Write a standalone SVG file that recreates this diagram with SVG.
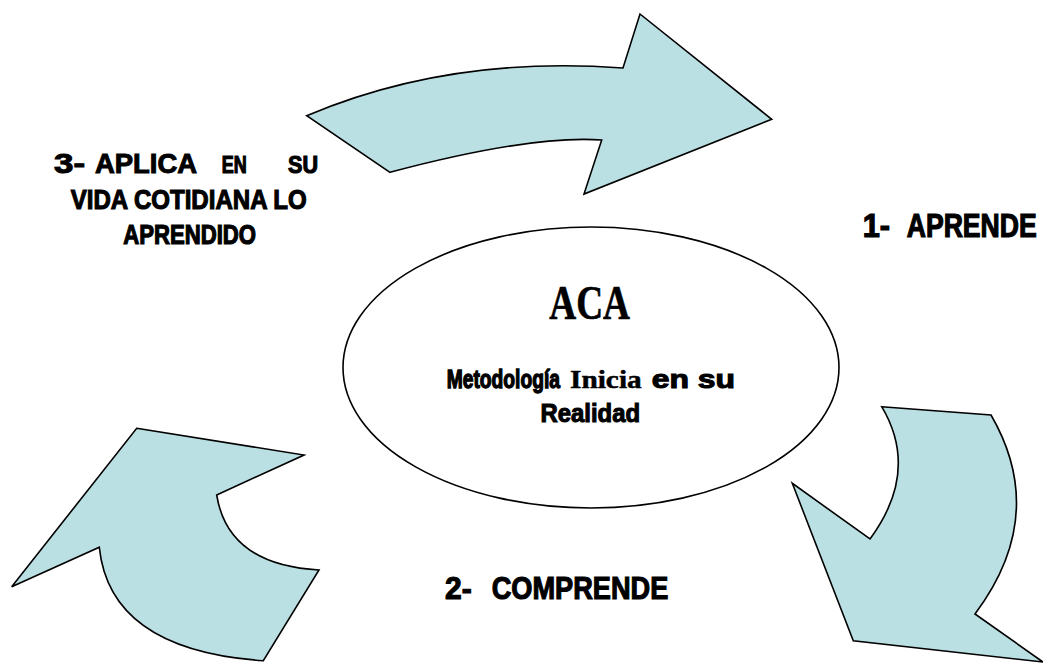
<svg xmlns="http://www.w3.org/2000/svg" width="1043" height="665" viewBox="0 0 1043 665">
<style>
.arrow{fill:#BBE0E3;stroke:#000;stroke-width:1.6;stroke-linejoin:miter}
.lbl{font-family:"Liberation Sans",Arial,sans-serif;font-weight:bold;fill:#000;stroke:#000;stroke-width:1}
.ser{font-family:"Liberation Serif","Times New Roman",serif;font-weight:bold;fill:#000;stroke:#000;stroke-width:0.5}
</style>
<rect width="1043" height="665" fill="#fff"/>
<g id="connectors">
<path id="arrow-top" class="arrow" d="M306.7 115.7 Q450 55 623 68 L640 14 L771.7 119.3 L584 194 L601.7 140 Q530 135 390 172.3 Z"/>
<path id="arrow-right" class="arrow" d="M881.7 406.7 L991 415 Q1049 515 975 614 L1043 662 L853.3 640.7 L792.3 483.3 L870 539 Q920 471 881.7 406.7 Z"/>
<path id="arrow-left" class="arrow" d="M136.7 428.3 L304 455 L216.7 495 Q228 565 319 570 L263.3 660.7 Q110 650 99.3 547.3 L11.7 586.7 Z"/>
</g>
<g id="node-aca">
<ellipse cx="591" cy="367.5" rx="248" ry="140.5" fill="#fff" stroke="#000" stroke-width="1.6"/>
<text class="ser" transform="translate(549.3 319.3) scale(1 1.32)" font-size="37.3" textLength="80.7" lengthAdjust="spacingAndGlyphs">ACA</text>
<text class="lbl" transform="translate(446.7 388.3) scale(1 1.3)" font-size="19.3" textLength="113.3" lengthAdjust="spacingAndGlyphs">Metodología</text>
<text class="ser" transform="translate(570 388.3) scale(1 0.95)" font-size="27" textLength="71.7" lengthAdjust="spacingAndGlyphs">Inicia</text>
<text class="lbl" transform="translate(651.7 388.3) scale(1 1.05)" font-size="24" textLength="83.3" lengthAdjust="spacingAndGlyphs">en su</text>
<text class="lbl" transform="translate(540.5 421.7) scale(1 1.07)" font-size="24" textLength="99.5" lengthAdjust="spacingAndGlyphs">Realidad</text>
</g>
<g id="node-aprende">
<text class="lbl" transform="translate(862.7 236.7) scale(1 1.22)" font-size="26.6" textLength="27.3" lengthAdjust="spacingAndGlyphs">1-</text>
<text class="lbl" transform="translate(906.7 236.7) scale(1 1.22)" font-size="26.6" textLength="130" lengthAdjust="spacingAndGlyphs">APRENDE</text>
</g>
<g id="node-comprende">
<text class="lbl" transform="translate(445 599.3) scale(1 1.16)" font-size="27.2" textLength="26.7" lengthAdjust="spacingAndGlyphs">2-</text>
<text class="lbl" transform="translate(491.7 599.3) scale(1 1.16)" font-size="27.2" textLength="176.6" lengthAdjust="spacingAndGlyphs">COMPRENDE</text>
</g>
<g id="node-aplica">
<text class="lbl" transform="translate(54 173.3) scale(1 1.0)" font-size="27.4" textLength="31" lengthAdjust="spacingAndGlyphs">3-</text>
<text class="lbl" transform="translate(95 173.3) scale(1 0.99)" font-size="27.4" textLength="102" lengthAdjust="spacingAndGlyphs">APLICA</text>
<text class="lbl" transform="translate(221.7 173.3) scale(1 1.2)" font-size="19.5" textLength="25" lengthAdjust="spacingAndGlyphs">EN</text>
<text class="lbl" transform="translate(288 173.3) scale(1 1.12)" font-size="21" textLength="30" lengthAdjust="spacingAndGlyphs">SU</text>
<text class="lbl" transform="translate(70.7 209.3) scale(1 1.13)" font-size="23.9" textLength="236" lengthAdjust="spacingAndGlyphs">VIDA COTIDIANA LO</text>
<text class="lbl" transform="translate(123.3 244) scale(1 1.22)" font-size="22.1" textLength="132.7" lengthAdjust="spacingAndGlyphs">APRENDIDO</text>
</g>
</svg>
